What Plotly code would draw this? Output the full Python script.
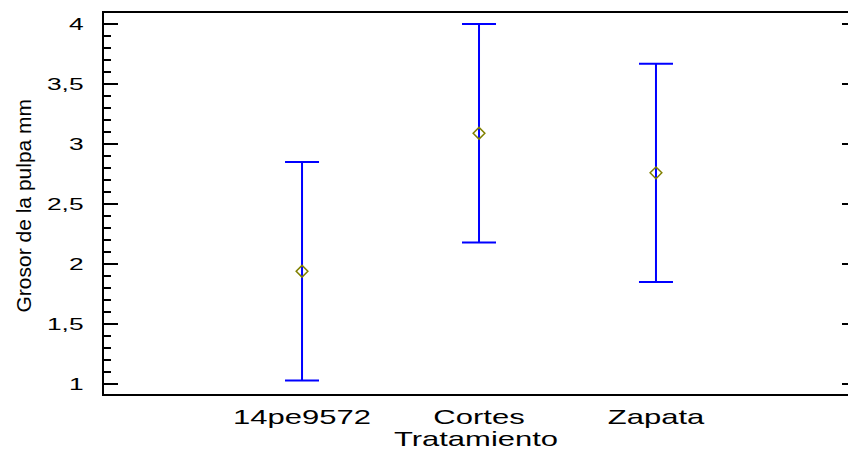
import plotly.graph_objects as go

# Treatment groups and their means with interval half-widths (mm)
tratamientos = ["14pe9572", "Cortes", "Zapata"]
medias = [1.94, 3.09, 2.76]
semi_intervalo = [0.91, 0.91, 0.91]

# Axis ticks
x_pos = [1, 2, 3]
y_ticks = [1, 1.5, 2, 2.5, 3, 3.5, 4]
y_tick_labels = ["1", "1,5", "2", "2,5", "3", "3,5", "4"]

FONT = "Liberation Sans, Arial, sans-serif"

fig = go.Figure()

fig.add_trace(go.Scatter(
    x=x_pos,
    y=medias,
    mode="markers",
    marker=dict(symbol="diamond-open", size=9, color="#808000",
                line=dict(width=1.5, color="#808000")),
    error_y=dict(type="data", array=semi_intervalo, visible=True,
                 color="#0000FF", thickness=2, width=17),
    showlegend=False,
    hoverinfo="skip",
))

# Empty trace so the right-hand tick axis is drawn
fig.add_trace(go.Scatter(x=[None], y=[None], yaxis="y2", mode="markers",
                         showlegend=False, hoverinfo="skip"))

y_range = [0.917, 4.092]

fig.update_layout(
    width=848,
    height=450,
    margin=dict(l=104, r=0, t=13, b=56),
    paper_bgcolor="white",
    plot_bgcolor="white",
    separators=",.",
    font=dict(family=FONT, color="black"),
    xaxis=dict(
        range=[-0.119, 4.085],
        tickmode="array",
        tickvals=x_pos,
        ticktext=tratamientos,
        ticks="",
        showline=True,
        linewidth=2,
        linecolor="black",
        mirror=True,
        showgrid=False,
        zeroline=False,
        tickfont=dict(size=20),
        ticklabelstandoff=4,
        title=dict(text="Tratamiento", font=dict(size=20), standoff=3),
    ),
    yaxis=dict(
        range=y_range,
        tickmode="array",
        tickvals=y_ticks,
        ticktext=y_tick_labels,
        ticks="inside",
        ticklen=14,
        tickwidth=2,
        tickcolor="black",
        minor=dict(ticks="inside", ticklen=7, tickwidth=2, tickcolor="black",
                   tick0=1, dtick=0.1, showgrid=False),
        showline=True,
        linewidth=2,
        linecolor="black",
        mirror=False,
        showgrid=False,
        zeroline=False,
        tickfont=dict(size=17),
        ticklabelstandoff=15,
    ),
    yaxis2=dict(
        range=y_range,
        overlaying="y",
        side="right",
        tickmode="array",
        tickvals=y_ticks,
        ticks="inside",
        ticklen=6,
        tickwidth=2,
        tickcolor="black",
        showticklabels=False,
        showline=False,
        showgrid=False,
        zeroline=False,
    ),
    annotations=[dict(
        text="Grosor de la pulpa mm",
        textangle=-90,
        xref="paper", yref="paper",
        x=0, y=0.5,
        xanchor="center", yanchor="middle",
        xshift=-81, yshift=-2,
        showarrow=False,
        font=dict(size=21),
    )],
)

# Horizontal text (tick labels and the x title) is drawn wide, as in the
# original software output: stretch it about its own anchor point.
widen_js = """
var gd = document.getElementById('{plot_id}');
var SX = 1.55;
function widen() {
  var nodes = gd.querySelectorAll('g.xtick > text, g.ytick > text, text.xtitle');
  nodes.forEach(function (t) {
    var cur = t.getAttribute('transform') || '';
    var added = t.getAttribute('data-widen') || '';
    if (added && cur.slice(-added.length) === added) {
      cur = cur.slice(0, cur.length - added.length);
    }
    var x = parseFloat(t.getAttribute('x')) || 0;
    var y = parseFloat(t.getAttribute('y')) || 0;
    var suffix = ' translate(' + x + ',' + y + ') scale(' + SX + ',1) translate(' + (-x) + ',' + (-y) + ')';
    t.setAttribute('transform', cur + suffix);
    t.setAttribute('data-widen', suffix);
  });
}
widen();
gd.on('plotly_afterplot', widen);
"""

fig.write_html("out.html", post_script=widen_js)
